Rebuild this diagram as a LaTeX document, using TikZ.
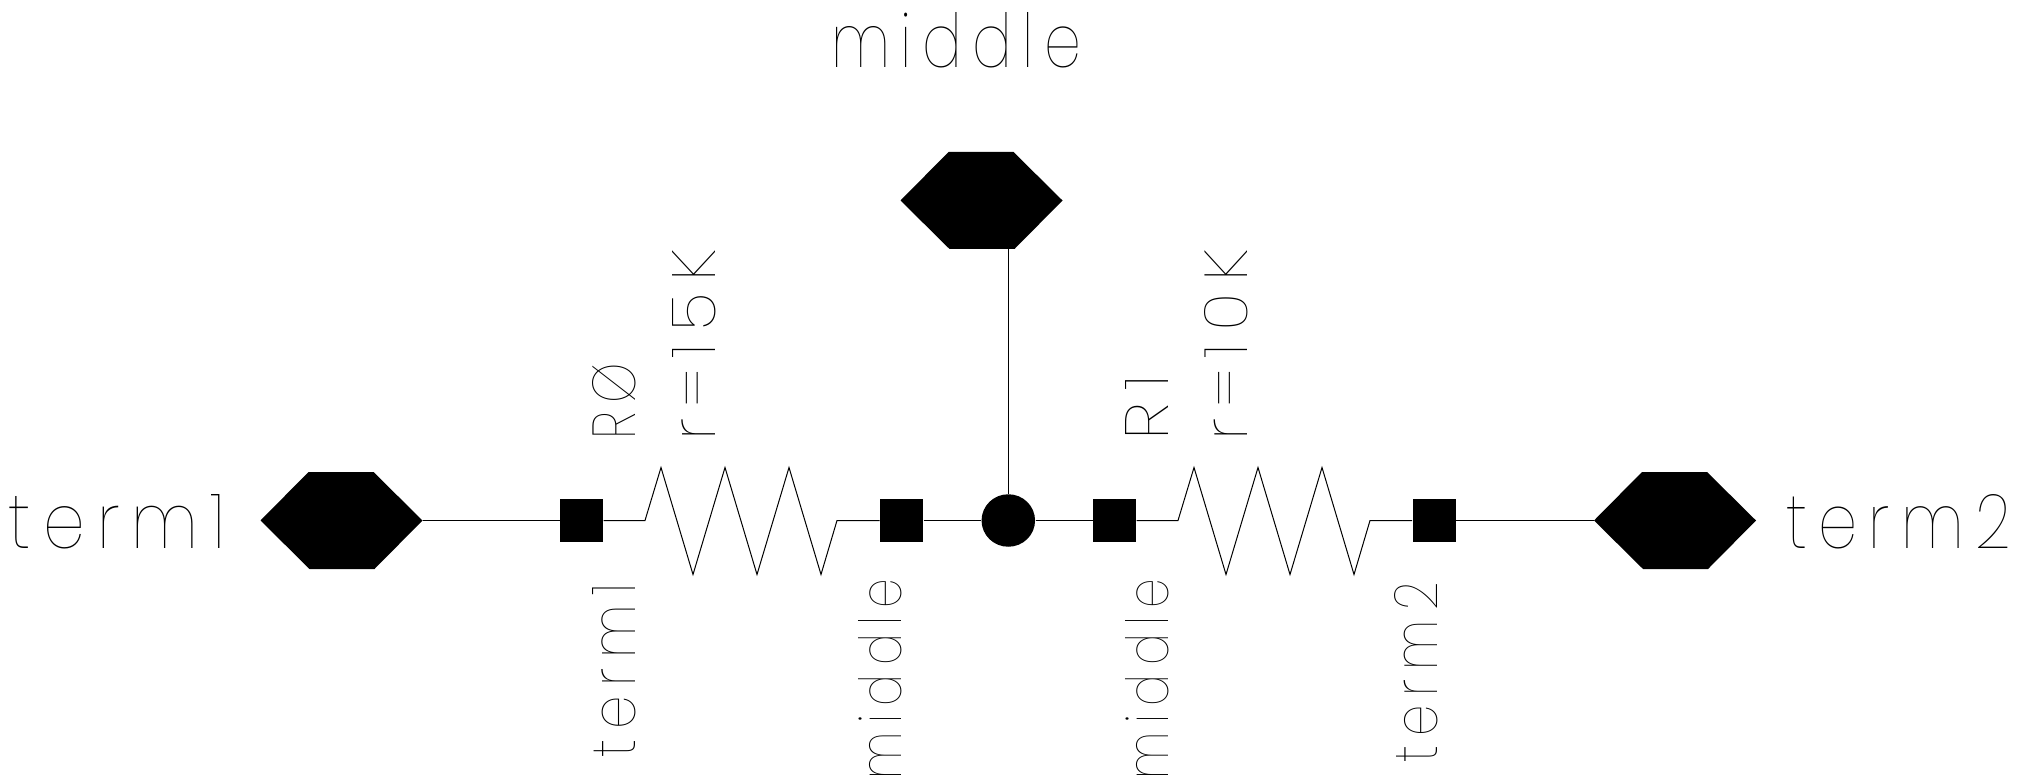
\documentclass[tikz,border=0pt]{standalone}
\usepackage{fontspec}
\usepackage{graphicx}
\newfontfamily\thinfont[LetterSpace=18]{Poppins Thin}
\newdimen\px \px=.75pt
\tikzset{
  every path/.style={line width=1\px},
  pad/.style={fill=black,draw=none,minimum width=43\px,minimum height=43\px,inner sep=0pt},
  hexbox/.style={draw=none,minimum width=161\px,minimum height=97\px,inner sep=0pt},
  dotnode/.style={ellipse,fill=black,draw=none,minimum width=53.5\px,minimum height=52.5\px,inner sep=0pt},
  lbl/.style={inner sep=0pt,anchor=base west},
  vlbl/.style={inner sep=0pt,anchor=base west,rotate=90}
}
\usetikzlibrary{shapes.geometric}
\newcommand{\hexnode}[3]{%
  \node[hexbox] (#1) at (#2,#3) {};
  \fill (#1.west) -- ++(48,-48.5) -- ++(65,0) -- (#1.east) -- ++(-48,48.5) -- ++(-65,0) -- cycle;
}
\newcommand{\zig}{-- ++(16,-53) -- ++(32,107) -- ++(32,-107) -- ++(32,107) -- ++(32,-107) -- ++(32,107) -- ++(16,-54)}
\newcommand{\txt}[3]{\resizebox{#1\px}{#2\px}{\thinfont\kern-.04em #3}}
\begin{document}
\begin{tikzpicture}[x=.75pt,y=-.75pt]
\useasboundingbox (0,0) rectangle (2017,780);
\hexnode{hl}{341.5}{520.5}
\hexnode{ht}{981.5}{200.5}
\hexnode{hr}{1675}{520.5}
\node[pad] (s1) at (581.5,520.5) {};
\node[pad] (s2) at (901.5,520.5) {};
\node[pad] (s3) at (1114.5,520.5) {};
\node[pad] (s4) at (1434,520.5) {};
\node[dotnode] (j) at (1008.3,520.5) {};
\coordinate (r0) at (645,520.5);
\coordinate (r1) at (1178,520.5);
\coordinate (tap) at (1008.3,249);
\draw (hl.east) -- (s1);
\draw (s1) -- (r0) \zig -- (s2);
\draw (s2) -- (j);
\draw (j) -- (s3);
\draw (s3) -- (r1) \zig -- (s4);
\draw (s4) -- (hr.west);
\draw (tap) -- (j);
\node[lbl] (lt1) at (11,548) {\txt{214}{54}{term1}};
\node[lbl] (lt2) at (1788,548) {\txt{222}{54}{term2}};
\node[lbl] (lm) at (833,67.5) {\txt{248}{55}{middle}};
\node[vlbl] (a) at (635,438) {\txt{75}{43}{RØ}};
\node[vlbl] (b) at (715,438) {\txt{188}{43}{r=15K}};
\node[vlbl] (c) at (1168.5,438) {\txt{63}{43}{R1}};
\node[vlbl] (d) at (1247.5,438) {\txt{188}{43}{r=10K}};
\node[vlbl] (e) at (635,756) {\txt{172}{43}{term1}};
\node[vlbl] (f) at (901.5,778) {\txt{199}{43}{middle}};
\node[vlbl] (g) at (1168.5,778) {\txt{199}{43}{middle}};
\node[vlbl] (h) at (1437,761) {\txt{178}{43}{term2}};
\end{tikzpicture}
\end{document}
